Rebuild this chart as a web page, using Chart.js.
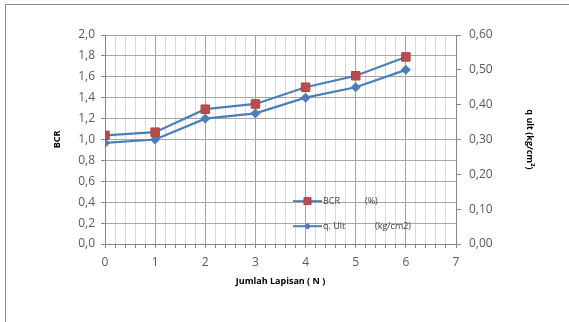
<!DOCTYPE html>
<html>
<head>
<meta charset="utf-8">
<script src="https://cdn.jsdelivr.net/npm/chart.js@4"></script>
<style>
  html, body { margin: 0; padding: 0; background: #fff; }
  .wrap { position: relative; width: 569px; height: 322px; overflow: hidden; }
  .frame { position: absolute; left: 5px; top: 4px; right: -2px; bottom: -2px; border-left: 1px solid #8a8a8a; border-top: 1px solid #8a8a8a; }
  canvas { position: absolute; left: 0; top: 0; }
</style>
</head>
<body>
<div class="wrap">
  <div class="frame"></div>
  <canvas id="chart" width="569" height="322"></canvas>
</div>
<script>
const layers = [0, 1, 2, 3, 4, 5, 6];
const bcr = [1.04, 1.07, 1.29, 1.34, 1.50, 1.61, 1.79];
const qUlt = [0.29, 0.30, 0.36, 0.375, 0.42, 0.45, 0.50];
const legendLabels = [['BCR', '(%)'], ['q. Ult', '(kg/cm2)']];

const lineBlue = '#4a7ebb';
const squareRed = '#be4b48';
const tickFont = { family: 'Open Sans', size: 12 };
const titleFont = { family: 'Open Sans', size: 9, weight: 'bold' };

const isWhole = (v) => Math.abs(v - Math.round(v)) < 1e-6;

// legend sits inside the plot area, like the Excel one
const insideLegend = {
  id: 'insideLegend',
  afterDraw(chart) {
    const ctx = chart.ctx;
    const rows = [chart.scales.y.getPixelForValue(0.41), chart.scales.y.getPixelForValue(0.17)];
    ctx.save();
    rows.forEach((yy, i) => {
      const ds = chart.data.datasets[i];
      ctx.strokeStyle = lineBlue;
      ctx.lineWidth = 2;
      ctx.beginPath();
      ctx.moveTo(293, yy);
      ctx.lineTo(322, yy);
      ctx.stroke();
      ctx.fillStyle = ds.pointBackgroundColor;
      ctx.strokeStyle = ds.pointBorderColor;
      ctx.lineWidth = 1;
      Chart.helpers.drawPoint(ctx, {
        pointStyle: ds.pointStyle,
        radius: ds.pointStyle === 'rect' ? 5 : 3,
        borderWidth: 1
      }, 307.5, yy);
      ctx.font = '9px "Open Sans"';
      ctx.fillStyle = '#404040';
      ctx.textBaseline = 'middle';
      ctx.fillText(legendLabels[i][0], 323, yy);
      ctx.fillText(legendLabels[i][1], i === 0 ? 365 : 375, yy);
    });
    ctx.restore();
  }
};

new Chart(document.getElementById('chart'), {
  type: 'line',
  data: {
    datasets: [
      {
        label: 'BCR (%)',
        data: layers.map((n, i) => ({ x: n, y: bcr[i] })),
        yAxisID: 'y',
        borderColor: lineBlue,
        borderWidth: 2.25,
        pointStyle: 'rect',
        pointRadius: 6,
        pointBackgroundColor: squareRed,
        pointBorderColor: '#b04441',
        pointBorderWidth: 1,
        tension: 0
      },
      {
        label: 'q. Ult (kg/cm2)',
        data: layers.map((n, i) => ({ x: n, y: qUlt[i] })),
        yAxisID: 'y1',
        borderColor: lineBlue,
        borderWidth: 2.25,
        pointStyle: 'rectRot',
        pointRadius: 4.5,
        pointBackgroundColor: lineBlue,
        pointBorderColor: lineBlue,
        pointBorderWidth: 1,
        tension: 0
      }
    ]
  },
  options: {
    responsive: false,
    animation: false,
    layout: { padding: { left: 48, right: 30, top: 35, bottom: 31 } },
    plugins: { legend: { display: false }, tooltip: { enabled: false } },
    scales: {
      x: {
        type: 'linear',
        min: 0,
        max: 7,
        afterFit: (s) => { s.height = 47; },
        afterBuildTicks: (s) => {
          s.ticks = [];
          for (let i = 0; i <= 35; i++) s.ticks.push({ value: i / 5 });
        },
        ticks: {
          autoSkip: false,
          maxRotation: 0,
          padding: 7,
          color: '#595959',
          font: tickFont,
          callback: (v) => (isWhole(v) ? String(Math.round(v)) : '')
        },
        grid: {
          color: (c) => (isWhole(c.tick.value) ? '#a6a6a6' : '#d9d9d9'),
          tickColor: '#868686',
          tickLength: 4
        },
        border: { color: '#868686' },
        title: { display: true, text: 'Jumlah Lapisan ( N )', font: titleFont, color: '#000', padding: { top: 4, bottom: 4 } }
      },
      y: {
        position: 'left',
        min: 0,
        max: 2,
        afterFit: (s) => { s.width = 57; },
        ticks: {
          stepSize: 0.2,
          padding: 6,
          color: '#595959',
          font: tickFont,
          callback: (v) => v.toFixed(1).replace('.', ',')
        },
        grid: { color: '#a6a6a6', tickColor: '#868686', tickLength: 4 },
        border: { color: '#868686' },
        title: { display: true, text: 'BCR', font: titleFont, color: '#000', padding: { top: 4, bottom: 4 } }
      },
      y1: {
        position: 'right',
        min: 0,
        max: 0.6,
        afterFit: (s) => { s.width = 83; },
        ticks: {
          stepSize: 0.1,
          padding: 8,
          color: '#595959',
          font: tickFont,
          callback: (v) => v.toFixed(2).replace('.', ',')
        },
        grid: { drawOnChartArea: false, tickColor: '#868686', tickLength: 5 },
        border: { color: '#868686' },
        title: { display: true, text: 'q ult (kg/cm²)', font: titleFont, color: '#000', padding: { top: 4, bottom: 4 } }
      }
    }
  },
  plugins: [insideLegend]
});
</script>
</body>
</html>
